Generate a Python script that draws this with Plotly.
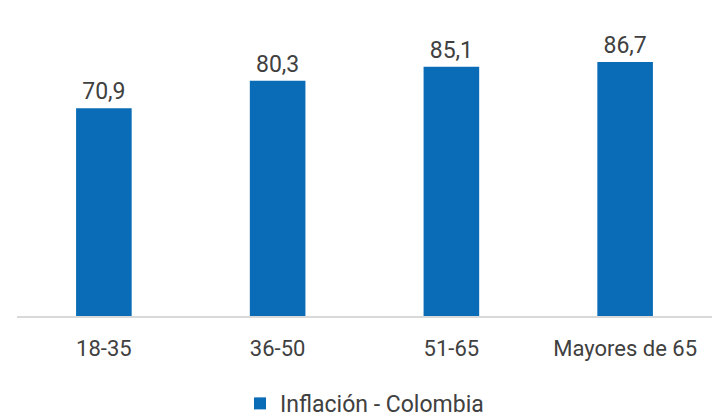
import plotly.graph_objects as go

categories = ["18-35", "36-50", "51-65", "Mayores de 65"]
values = [70.9, 80.3, 85.1, 86.7]
labels = ["70,9", "80,3", "85,1", "86,7"]
series_name = "Inflación - Colombia"

fig = go.Figure()
fig.add_trace(go.Bar(
    x=categories, y=values, name=series_name,
    text=labels, textposition="outside", cliponaxis=False,
    textfont=dict(family="Roboto", size=23, color="#404040"),
    marker=dict(color="#0A6CB6", line=dict(width=0)),
    showlegend=True,
))
fig.update_layout(
    width=720, height=420,
    margin=dict(l=17, r=8, t=23, b=104, autoexpand=False),
    paper_bgcolor="white", plot_bgcolor="white",
    bargap=0.68,
    font=dict(family="Roboto", color="#404040"),
    showlegend=True,
    legend=dict(orientation="h", x=0.5, xanchor="center", y=-0.225, yanchor="top",
                font=dict(family="Roboto", size=23, color="#404040"),
                itemwidth=30),
    xaxis=dict(showline=True, linecolor="#D9D9D9", linewidth=1.5, ticks="",
               tickfont=dict(family="Roboto", size=22, color="#404040"),
               ticklabelstandoff=12, showgrid=False, automargin=False),
    yaxis=dict(range=[0, 100], visible=False, showgrid=False, zeroline=False,
               automargin=False),
)
fig.write_html("out.html", config={"displayModeBar": False},
               post_script="document.body.style.margin='0';")
